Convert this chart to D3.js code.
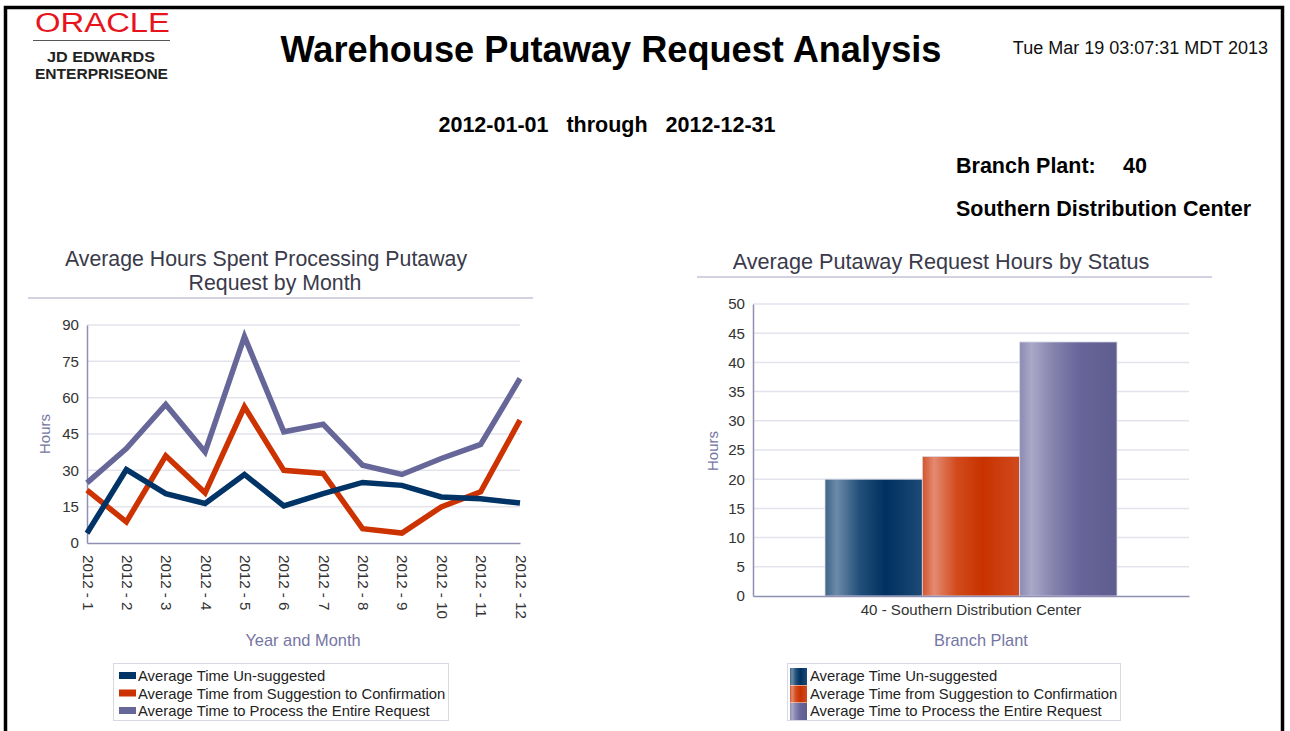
<!DOCTYPE html>
<meta charset="utf-8">
<script src="https://d3js.org/d3.v7.min.js"></script>
<style>
  body { margin: 0; background: #fff; }
  text { font-family: "Liberation Sans", Arial, sans-serif; }
</style>
<div id="page"></div>
<script>

// data
var months = ["2012 - 1","2012 - 2","2012 - 3","2012 - 4","2012 - 5","2012 - 6",
              "2012 - 7","2012 - 8","2012 - 9","2012 - 10","2012 - 11","2012 - 12"];
var seriesNames = ["Average Time Un-suggested",
                   "Average Time from Suggestion to Confirmation",
                   "Average Time to Process the Entire Request"];
var unsuggested  = [4, 30.3, 20.4, 16.3, 28.3, 15.3, 20.4, 25, 23.8, 19, 18.3, 16.5];
var toConfirm    = [21.8, 8.7, 36, 20.7, 56.2, 30, 28.7, 5.9, 4.1, 14.9, 21.1, 50.7];
var entireReq    = [24.8, 39, 57.2, 37.6, 85.2, 45.9, 49, 32.1, 28.3, 34.9, 40.7, 67.9];
var lineTicks    = [0, 15, 30, 45, 60, 75, 90];

var branches     = ["40 - Southern Distribution Center"];
var barValues    = [20, 23.9, 43.5];
var barTicks     = [0, 5, 10, 15, 20, 25, 30, 35, 40, 45, 50];

var colors = ["#003366", "#cc3300", "#666699"];
var axisColor = "#8f8fb5", gridColor = "#e3e3ee", labelColor = "#7575a3";
var tickFont = 15.1, legendFont = 14.8;

var svg = d3.select("#page").append("svg")
    .attr("width", 1290).attr("height", 731);

// page frame
svg.append("path")
    .attr("d", "M5.5,731 V7.5 H1282.5 V731")
    .attr("fill", "none").attr("stroke", "#000").attr("stroke-width", 3.5);

// logo
svg.append("text").attr("x", 35).attr("y", 32)
    .attr("font-size", 27).attr("fill", "#e8141c").attr("textLength", 135)
    .attr("lengthAdjust", "spacingAndGlyphs")
    .text("ORACLE");
svg.append("line").attr("x1", 33).attr("x2", 170).attr("y1", 40.5).attr("y2", 40.5)
    .attr("stroke", "#555").attr("stroke-width", 1);
svg.append("text").attr("x", 47).attr("y", 62)
    .attr("font-size", 14).attr("font-weight", "bold").attr("fill", "#222")
    .attr("textLength", 108).attr("lengthAdjust", "spacingAndGlyphs")
    .text("JD EDWARDS");
svg.append("text").attr("x", 35).attr("y", 79)
    .attr("font-size", 14).attr("font-weight", "bold").attr("fill", "#222")
    .attr("textLength", 133).attr("lengthAdjust", "spacingAndGlyphs")
    .text("ENTERPRISEONE");

// header
svg.append("text").attr("x", 611).attr("y", 62).attr("text-anchor", "middle")
    .attr("font-size", 36.2).attr("font-weight", "bold").attr("fill", "#000")
    .text("Warehouse Putaway Request Analysis");
svg.append("text").attr("x", 1268).attr("y", 54).attr("text-anchor", "end")
    .attr("font-size", 18).attr("fill", "#111")
    .text("Tue Mar 19 03:07:31 MDT 2013");
svg.append("text").attr("x", 607).attr("y", 132).attr("text-anchor", "middle")
    .attr("font-size", 21.5).attr("font-weight", "bold").attr("fill", "#000")
    .attr("xml:space", "preserve")
    .text("2012-01-01   through   2012-12-31");
svg.append("text").attr("x", 956).attr("y", 173)
    .attr("font-size", 21.5).attr("font-weight", "bold").attr("fill", "#000")
    .text("Branch Plant:");
svg.append("text").attr("x", 1123).attr("y", 173)
    .attr("font-size", 21.5).attr("font-weight", "bold").attr("fill", "#000")
    .text("40");
svg.append("text").attr("x", 956).attr("y", 216)
    .attr("font-size", 21.5).attr("font-weight", "bold").attr("fill", "#000")
    .text("Southern Distribution Center");

// ---------- line chart ----------
var lc = {left: 87, right: 520, top: 325, bottom: 543};

var t1 = svg.append("text").attr("text-anchor", "middle")
    .attr("font-size", 21.3).attr("fill", "#3a3a4a");
t1.append("tspan").attr("x", 266).attr("y", 266).text("Average Hours Spent Processing Putaway");
t1.append("tspan").attr("x", 275).attr("y", 290).text("Request by Month");
svg.append("line").attr("x1", 28).attr("x2", 533).attr("y1", 298).attr("y2", 298)
    .attr("stroke", "#d2d2e0").attr("stroke-width", 2);

var x = d3.scalePoint().domain(months).range([lc.left, lc.right]);
var y = d3.scaleLinear().domain([0, 90]).range([lc.bottom, lc.top]);

svg.append("g").selectAll("line").data(lineTicks.slice(1)).enter().append("line")
    .attr("x1", lc.left).attr("x2", lc.right)
    .attr("y1", function(d) { return y(d); }).attr("y2", function(d) { return y(d); })
    .attr("stroke", gridColor).attr("stroke-width", 1.5);

var yAxisL = svg.append("g").attr("transform", "translate(" + lc.left + ",0)")
    .call(d3.axisLeft(y).tickValues(lineTicks).tickSize(0).tickPadding(8));
yAxisL.select(".domain").attr("stroke", axisColor).attr("stroke-width", 1.5);
yAxisL.selectAll("text").attr("font-size", tickFont).attr("fill", "#333")
    .style("font-family", "Liberation Sans, Arial, sans-serif");

var xAxisL = svg.append("g").attr("transform", "translate(0," + lc.bottom + ")")
    .call(d3.axisBottom(x).tickSize(0).tickPadding(0));
xAxisL.select(".domain").attr("stroke", axisColor).attr("stroke-width", 1.5);
xAxisL.selectAll("text")
    .attr("font-size", tickFont).attr("fill", "#333")
    .style("font-family", "Liberation Sans, Arial, sans-serif")
    .attr("text-anchor", "start").attr("dy", null)
    .attr("transform", "translate(-5,12) rotate(90)")
    .attr("y", 0).attr("x", 0);

svg.append("text").attr("transform", "translate(50,434) rotate(-90)")
    .attr("text-anchor", "middle").attr("font-size", 15).attr("fill", labelColor)
    .text("Hours");
svg.append("text").attr("x", 303).attr("y", 646).attr("text-anchor", "middle")
    .attr("font-size", 16.4).attr("fill", labelColor)
    .text("Year and Month");

var lineData = [unsuggested, toConfirm, entireReq];
var line = d3.line()
    .x(function(d, i) { return x(months[i]); })
    .y(function(d) { return y(d); });
// draw purple first so navy/red sit on top like the original
[2, 1, 0].forEach(function(k) {
  svg.append("path").datum(lineData[k])
    .attr("d", line).attr("fill", "none")
    .attr("stroke", colors[k]).attr("stroke-width", 5.5)
    .attr("stroke-linejoin", "miter");
});

// legend left
svg.append("rect").attr("x", 113.5).attr("y", 663.5).attr("width", 335).attr("height", 57)
    .attr("fill", "#fff").attr("stroke", "#d8d8e2");
seriesNames.forEach(function(name, i) {
  var yy = 676 + i * 17.5;
  svg.append("rect").attr("x", 119).attr("y", yy - 4).attr("width", 17).attr("height", 7)
    .attr("fill", colors[i]);
  svg.append("text").attr("x", 138).attr("y", yy + 5)
    .attr("font-size", legendFont).attr("fill", "#222").text(name);
});

// ---------- bar chart ----------
var bc = {left: 753, right: 1189, top: 304, bottom: 596};

svg.append("text").attr("x", 941).attr("y", 269).attr("text-anchor", "middle")
    .attr("font-size", 21.7).attr("fill", "#3a3a4a")
    .text("Average Putaway Request Hours by Status");
svg.append("line").attr("x1", 697).attr("x2", 1212).attr("y1", 277).attr("y2", 277)
    .attr("stroke", "#d2d2e0").attr("stroke-width", 2);

var yb = d3.scaleLinear().domain([0, 50]).range([bc.bottom, bc.top]);
var xb = d3.scaleBand().domain(branches).range([bc.left, bc.right]);
var xs = d3.scaleBand().domain(d3.range(barValues.length))
    .range([xb(branches[0]) + 72, xb(branches[0]) + xb.bandwidth() - 72]);

svg.append("g").selectAll("line").data(barTicks.slice(1)).enter().append("line")
    .attr("x1", bc.left).attr("x2", bc.right)
    .attr("y1", function(d) { return yb(d); }).attr("y2", function(d) { return yb(d); })
    .attr("stroke", gridColor).attr("stroke-width", 1.5);

// gradients
var grads = [
  ["#3f6488", "#6c8ba8", "#23507a", "#00305f", "#1d4a76"],
  ["#d2532d", "#e38a71", "#d24b1c", "#c83200", "#d04a1e"],
  ["#8c8ab2", "#aaa8c8", "#8482ac", "#66649a", "#5f5d8e"]
];
var defs = svg.append("defs");
grads.forEach(function(g, i) {
  var lg = defs.append("linearGradient").attr("id", "g" + i)
      .attr("x1", "0").attr("x2", "1").attr("y1", "0").attr("y2", "0");
  [0, 0.12, 0.35, 0.62, 1].forEach(function(o, j) {
    lg.append("stop").attr("offset", o).attr("stop-color", g[j]);
  });
});

svg.append("g").selectAll("rect").data(barValues).enter().append("rect")
    .attr("x", function(d, i) { return xs(i); })
    .attr("width", xs.bandwidth())
    .attr("y", function(d) { return yb(d); })
    .attr("height", function(d) { return bc.bottom - yb(d); })
    .attr("fill", function(d, i) { return "url(#g" + i + ")"; })
    .attr("stroke", "#dcdce8").attr("stroke-width", 0.8);

var yAxisB = svg.append("g").attr("transform", "translate(" + bc.left + ",0)")
    .call(d3.axisLeft(yb).tickValues(barTicks).tickSize(0).tickPadding(8));
yAxisB.select(".domain").attr("stroke", axisColor).attr("stroke-width", 1.5);
yAxisB.selectAll("text").attr("font-size", tickFont).attr("fill", "#333")
    .style("font-family", "Liberation Sans, Arial, sans-serif");

var xAxisB = svg.append("g").attr("transform", "translate(0," + bc.bottom + ")")
    .call(d3.axisBottom(xb).tickSize(0).tickPadding(8));
xAxisB.select(".domain").attr("stroke", axisColor).attr("stroke-width", 1.5);
xAxisB.selectAll("text").attr("font-size", tickFont).attr("fill", "#333")
    .style("font-family", "Liberation Sans, Arial, sans-serif");

svg.append("text").attr("transform", "translate(718,451) rotate(-90)")
    .attr("text-anchor", "middle").attr("font-size", 15).attr("fill", labelColor)
    .text("Hours");
svg.append("text").attr("x", 981).attr("y", 646).attr("text-anchor", "middle")
    .attr("font-size", 16.4).attr("fill", labelColor)
    .text("Branch Plant");

// legend right
svg.append("rect").attr("x", 787.5).attr("y", 663.5).attr("width", 333).attr("height", 57)
    .attr("fill", "#fff").attr("stroke", "#d8d8e2");
seriesNames.forEach(function(name, i) {
  var yy = 676 + i * 17.5;
  svg.append("rect").attr("x", 790).attr("y", yy - 8).attr("width", 17).attr("height", 17)
    .attr("fill", "url(#g" + i + ")");
  svg.append("text").attr("x", 810).attr("y", yy + 5)
    .attr("font-size", legendFont).attr("fill", "#222").text(name);
});

</script>
